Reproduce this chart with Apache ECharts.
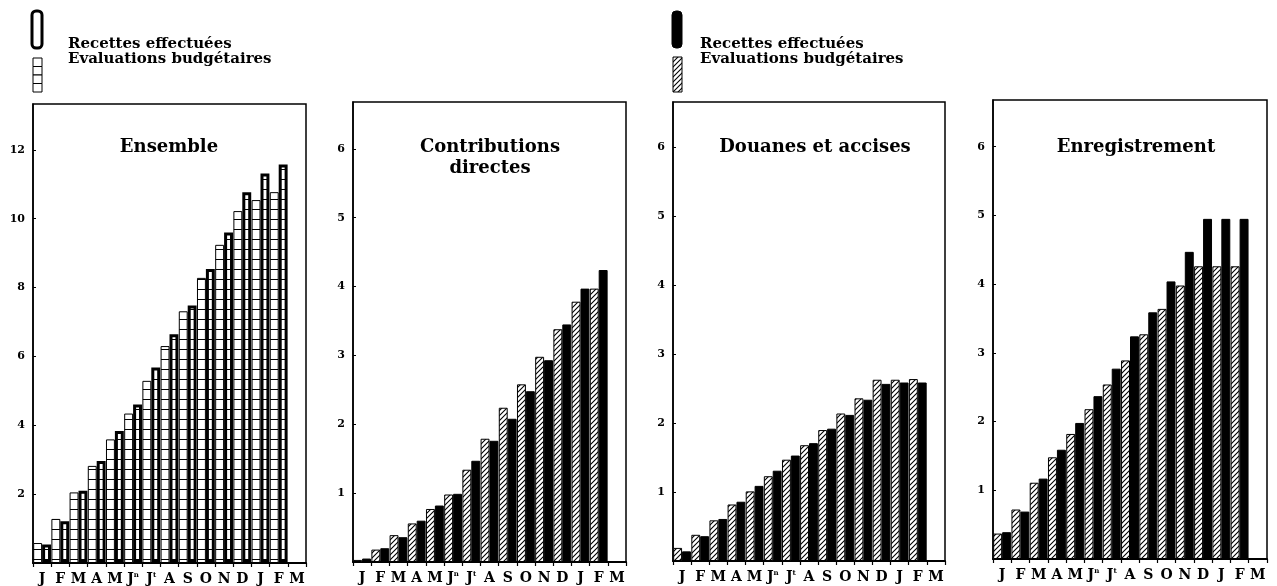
<!DOCTYPE html>
<html>
<head>
<meta charset="utf-8">
<script src="https://cdn.jsdelivr.net/npm/echarts@6/dist/echarts.min.js"></script>
<style>html,body{margin:0;padding:0;background:#fff}#c{width:1277px;height:586px}</style>
</head>
<body>
<div id="c"></div>
<script>
// ---- data ----
var monthLabels = ['J','F','M','A','M','Jn','Jt','A','S','O','N','D','J','F','M'];
var panelTitles = ['Ensemble', 'Contributions\ndirectes', 'Douanes et accises', 'Enregistrement'];
var legendRec = 'Recettes effectuées';
var legendEval = 'Evaluations budgétaires';

var ensEval = [0.58,1.28,2.05,2.82,3.59,4.34,5.29,6.30,7.31,8.28,9.24,10.22,10.54,10.77];
var ensRec  = [0.54,1.21,2.10,2.96,3.83,4.60,5.68,6.64,7.48,8.54,9.60,10.77,11.31,11.57];
var cdEval  = [0.03,0.18,0.39,0.56,0.77,0.98,1.34,1.79,2.24,2.58,2.98,3.38,3.78,3.97];
var cdRec   = [0.05,0.20,0.36,0.60,0.82,0.99,1.47,1.76,2.08,2.48,2.93,3.45,3.97,4.24];
var daEval  = [0.19,0.38,0.59,0.82,1.01,1.23,1.47,1.68,1.90,2.14,2.36,2.63,2.63,2.64];
var daRec   = [0.14,0.36,0.61,0.86,1.09,1.31,1.53,1.71,1.92,2.12,2.34,2.57,2.59,2.59];
var enEval  = [0.37,0.72,1.11,1.48,1.82,2.18,2.54,2.89,3.27,3.64,3.98,4.26,4.26,4.26];
var enRec   = [0.39,0.69,1.17,1.59,1.98,2.37,2.77,3.24,3.59,4.04,4.47,4.95,4.95,4.95];

// ---- patterns ----
function hatchCanvas() {
  var s = 5, c = document.createElement('canvas');
  c.width = s; c.height = s;
  var g = c.getContext('2d');
  g.fillStyle = '#fff'; g.fillRect(0,0,s,s);
  g.strokeStyle = '#000'; g.lineWidth = 1.1;
  g.beginPath();
  g.moveTo(-1, s+1); g.lineTo(s+1, -1);
  g.moveTo(-1, 1); g.lineTo(1, -1);
  g.moveTo(s-1, s+1); g.lineTo(s+1, s-1);
  g.stroke();
  return c;
}
function gridCanvas() {
  var c = document.createElement('canvas');
  c.width = 4; c.height = 10;
  var g = c.getContext('2d');
  g.fillStyle = '#fff'; g.fillRect(0,0,4,10);
  g.fillStyle = '#000'; g.fillRect(0,9,4,1.3);
  return c;
}
var hatch = {image: hatchCanvas(), repeat: 'repeat'};
var gridPat = {image: gridCanvas(), repeat: 'repeat'};

var FONT = 'DejaVu Serif';
var grids = [
  {left: 33, top: 104, width: 273, height: 459},
  {left: 353, top: 102, width: 273, height: 460},
  {left: 673, top: 102, width: 272, height: 459},
  {left: 993, top: 100, width: 274, height: 459}
];
var yMax = [13.33, 6.68, 6.66, 6.68];
var yInt = [2, 1, 1, 1];

var option = {
  animation: false,
  backgroundColor: '#fff',
  grid: grids.map(function (g) {
    return Object.assign({show: true, borderColor: '#000', borderWidth: 1.5, backgroundColor: 'transparent', containLabel: false}, g);
  }),
  xAxis: grids.map(function (g, i) {
    return {
      type: 'category', gridIndex: i, data: monthLabels, boundaryGap: true,
      axisLine: {show: true, lineStyle: {color: '#000', width: 2}},
      axisTick: {show: true, inside: false, length: 4, interval: 0, lineStyle: {color: '#000', width: 1.2}},
      axisLabel: {
        interval: 0, margin: 9, color: '#000',
        fontFamily: FONT, fontWeight: 'bold', fontSize: 14,
        formatter: function (v) {
          if (v.length > 1) return '{b|' + v.charAt(0) + '}{s|' + v.slice(1) + '}';
          return '{b|' + v + '}';
        },
        rich: {
          b: {fontFamily: FONT, fontWeight: 'bold', fontSize: 14, color: '#000'},
          s: {fontFamily: FONT, fontWeight: 'bold', fontSize: 7, color: '#000', verticalAlign: 'top', padding: [0,0,7,0]}
        }
      },
      splitLine: {show: false}
    };
  }),
  yAxis: grids.map(function (g, i) {
    return {
      type: 'value', gridIndex: i, min: 0, max: yMax[i], interval: yInt[i],
      axisLine: {show: true, lineStyle: {color: '#000', width: 1.5}},
      axisTick: {show: true, inside: true, length: 3, lineStyle: {color: '#000', width: 1}},
      axisLabel: {
        margin: 8, color: '#000', fontFamily: FONT, fontWeight: 'bold', fontSize: 11,
        showMaxLabel: false,
        formatter: function (v) { return v === 0 ? '' : String(v); }
      },
      splitLine: {show: false}
    };
  }),
  series: [],
  graphic: []
};

function addPair(i, evalData, recData, ensemble) {
  option.series.push({
    type: 'bar', xAxisIndex: i, yAxisIndex: i, name: legendEval, data: evalData,
    barGap: '0%', barCategoryGap: '2%',
    itemStyle: ensemble ? {color: gridPat, borderColor: '#000', borderWidth: 1}
                        : {color: hatch, borderColor: '#000', borderWidth: 1}
  });
  option.series.push({
    type: 'bar', xAxisIndex: i, yAxisIndex: i, name: legendRec, data: recData,
    barGap: '0%', barCategoryGap: '2%',
    itemStyle: ensemble ? {color: gridPat, borderColor: '#000', borderWidth: 3}
                        : {color: '#000', borderColor: '#000', borderWidth: 1}
  });
}
addPair(0, ensEval, ensRec, true);
addPair(1, cdEval, cdRec, false);
addPair(2, daEval, daRec, false);
addPair(3, enEval, enRec, false);

// titles
var titleX = [169, 490, 815, 1136];
panelTitles.forEach(function (t, i) {
  option.graphic.push({
    type: 'text', x: titleX[i], y: 137, z: 100,
    style: {text: t, fill: '#000', font: 'bold 18px "' + FONT + '"', textAlign: 'center', textVerticalAlign: 'top', lineHeight: 21}
  });
});

// legends
function legend(x0, tx, ensemble) {
  option.graphic.push({
    type: 'rect', z: 100,
    shape: {x: x0, y: 11, width: 10, height: 37, r: 4},
    style: ensemble ? {fill: '#fff', stroke: '#000', lineWidth: 3} : {fill: '#000', stroke: '#000', lineWidth: 1}
  });
  if (ensemble) {
    for (var k = 0; k < 4; k++) {
      option.graphic.push({
        type: 'rect', z: 100,
        shape: {x: x0 + 1, y: 58 + k * 8.5, width: 9, height: 8.5},
        style: {fill: '#fff', stroke: '#000', lineWidth: 1}
      });
    }
  } else {
    option.graphic.push({
      type: 'rect', z: 100,
      shape: {x: x0 + 1, y: 57, width: 9, height: 35},
      style: {fill: hatch, stroke: '#000', lineWidth: 1}
    });
  }
  option.graphic.push({
    type: 'text', x: tx, y: 44, z: 100,
    style: {text: legendRec, fill: '#000', font: 'bold 15px "' + FONT + '"', textAlign: 'left', textVerticalAlign: 'middle'}
  });
  option.graphic.push({
    type: 'text', x: tx, y: 59, z: 100,
    style: {text: legendEval, fill: '#000', font: 'bold 15px "' + FONT + '"', textAlign: 'left', textVerticalAlign: 'middle'}
  });
}
legend(32, 68, true);
legend(672, 700, false);

var chart = echarts.init(document.getElementById('c'));
chart.setOption(option);
</script>
</body>
</html>
